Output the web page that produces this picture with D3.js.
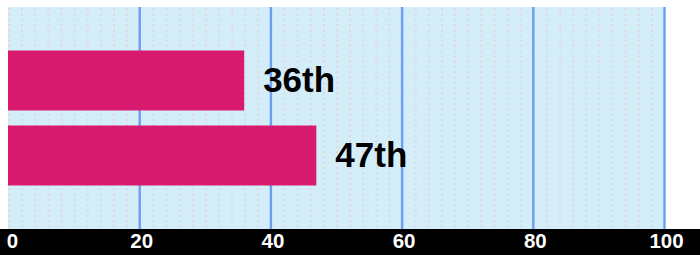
<!DOCTYPE html>
<html><head><meta charset="utf-8">
<script src="https://cdn.jsdelivr.net/npm/d3@7"></script>
<style>html,body{margin:0;padding:0;background:#fff;}svg{display:block;}</style>
</head><body>
<svg id="c" width="700" height="255"></svg>
<script>
const categories = ["A", "B"];
const values = [36, 47];
const labels = ["36th", "47th"];
const tickValues = [0, 20, 40, 60, 80, 100];
const minorValues = d3.range(0, 100, 2);

const W = 700, H = 255;
const m = {left: 8, right: 36, top: 7, bottom: 26};
const svg = d3.select("#c");
const x = d3.scaleLinear().domain([0, 100]).range([m.left, W - m.right]);
const y = d3.scaleBand().domain(categories).range([m.top, H - m.bottom]).paddingInner(0.2).paddingOuter(0.58);

svg.append("rect").attr("x", x(0)).attr("y", m.top).attr("width", x(100) - x(0) + 1)
  .attr("height", H - m.bottom - m.top).attr("fill", "#d3eef9");

svg.append("g").selectAll("line").data(minorValues).join("line")
  .attr("x1", d => x(d) + 1).attr("x2", d => x(d) + 1)
  .attr("y1", m.top + 1).attr("y2", H - m.bottom)
  .attr("stroke", "#e2d6dc").attr("stroke-width", 2).attr("stroke-dasharray", "2,3.3");

svg.append("g").selectAll("line").data(tickValues.filter(d => d > 0)).join("line")
  .attr("x1", d => x(d) + 0.5).attr("x2", d => x(d) + 0.5)
  .attr("y1", m.top).attr("y2", H - m.bottom)
  .attr("stroke", "#6c9ff0").attr("stroke-width", 2.4);

svg.append("g").selectAll("rect").data(values).join("rect")
  .attr("x", x(0)).attr("y", (d, i) => y(categories[i]))
  .attr("width", d => x(d) - x(0)).attr("height", y.bandwidth())
  .attr("fill", "#d91b6f");

svg.append("g").selectAll("text").data(values).join("text")
  .attr("x", d => x(d) + 19).attr("y", (d, i) => y(categories[i]) + y.bandwidth() / 2 + 11)
  .attr("font-family", "Liberation Sans, Arial, sans-serif").attr("font-weight", "bold")
  .attr("font-size", 35).attr("fill", "#000")
  .text((d, i) => labels[i]);

svg.append("rect").attr("x", 0).attr("y", H - m.bottom).attr("width", W).attr("height", m.bottom).attr("fill", "#000");

const ax = svg.append("g").attr("transform", `translate(0,${H - m.bottom})`)
  .call(d3.axisBottom(x).tickValues(tickValues).tickSize(0).tickPadding(0).tickFormat(d3.format("d")));
ax.select(".domain").remove();
ax.selectAll("text").attr("fill", "#fff").attr("font-family", "Liberation Sans, Arial, sans-serif")
  .attr("font-weight", "bold").attr("font-size", 20.5).attr("dy", null).attr("y", 18.5)
  .attr("dx", d => d === 0 ? 4 : 2);
</script>
</body></html>
